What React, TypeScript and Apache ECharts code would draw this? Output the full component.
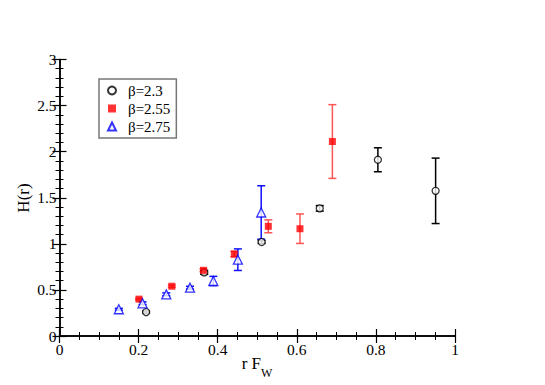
import React, { useEffect, useRef } from "react";
import * as echarts from "echarts";

const x23 = [0.219, 0.366, 0.511, 0.658, 0.805, 0.951];
const y23 = [0.26, 0.69, 1.02, 1.385, 1.912, 1.575];
const e23 = [0.012, 0.02, 0.015, 0.03, 0.13, 0.355];

const x255 = [0.201, 0.284, 0.364, 0.442, 0.528, 0.608, 0.69];
const y255 = [0.4, 0.54, 0.713, 0.889, 1.19, 1.164, 2.11];
const e255 = [0.01, 0.012, 0.015, 0.03, 0.07, 0.16, 0.4];

const x275 = [0.15, 0.21, 0.27, 0.33, 0.389, 0.451, 0.51];
const y275 = [0.29, 0.355, 0.452, 0.524, 0.597, 0.828, 1.34];
const e275 = [0.01, 0.015, 0.015, 0.015, 0.05, 0.117, 0.29];

const legendNames = ["β=2.3", "β=2.55", "β=2.75"];
const xTicks = [0, 0.2, 0.4, 0.6, 0.8, 1];
const yTicks = [0, 0.5, 1, 1.5, 2, 2.5, 3];

const FONT = "'Liberation Serif', 'DejaVu Serif', serif";

function errSeries(xs: number[], ys: number[], es: number[], color: string) {
  return {
    type: "custom",
    silent: true,
    xAxisIndex: 0,
    yAxisIndex: 0,
    data: xs.map((x, i) => [x, ys[i], es[i]]),
    renderItem: (params: any, api: any) => {
      const x = api.value(0);
      const y = api.value(1);
      const e = api.value(2);
      const top = api.coord([x, y + e]);
      const bot = api.coord([x, y - e]);
      const w = 4;
      const style = { stroke: color, lineWidth: 1.5 };
      return {
        type: "group",
        children: [
          { type: "line", shape: { x1: top[0], y1: top[1], x2: bot[0], y2: bot[1] }, style },
          { type: "line", shape: { x1: top[0] - w, y1: top[1], x2: top[0] + w, y2: top[1] }, style },
          { type: "line", shape: { x1: bot[0] - w, y1: bot[1], x2: bot[0] + w, y2: bot[1] }, style },
        ],
      };
    },
    z: 2,
  };
}

export default function App() {
  const ref = useRef<HTMLDivElement>(null);
  useEffect(() => {
    if (!ref.current) return;
    const chart = echarts.init(ref.current, null, { renderer: "svg" });
    const axisCommon = {
      min: 0,
      axisLine: { show: true, lineStyle: { color: "#000", width: 1.5 } },
      axisTick: { show: true, inside: true, length: 7, lineStyle: { color: "#000", width: 1.2 } },
      minorTick: { show: true, splitNumber: 4, length: 4, lineStyle: { color: "#000", width: 1 } },
      splitLine: { show: false },
    };
    const labelStyle = { color: "#000", fontFamily: FONT, fontSize: 15.5 };
    chart.setOption({
      animation: false,
      textStyle: { fontFamily: FONT },
      grid: { left: 59.5, right: 90, top: 59.5, bottom: 49 },
      xAxis: [
        {
          ...axisCommon,
          type: "value",
          max: 1,
          interval: 0.2,
          position: "bottom",
          axisLabel: {
            ...labelStyle,
            margin: 5,
            formatter: (v: number) => {
              const r = Math.round(v * 10) / 10;
              return xTicks.includes(r) ? String(r) : "";
            },
          },
        },
        {
          ...axisCommon,
          type: "value",
          max: 1,
          interval: 0.2,
          position: "top",
          axisLabel: { show: false },
        },
      ],
      yAxis: [
        {
          ...axisCommon,
          type: "value",
          max: 3,
          interval: 0.5,
          position: "left",
          minorTick: { show: true, splitNumber: 5, length: 4, lineStyle: { color: "#000", width: 1 } },
          axisLabel: { ...labelStyle, margin: 3, formatter: (v: number) => (yTicks.includes(v) ? String(v) : "") },
        },
        {
          ...axisCommon,
          type: "value",
          max: 3,
          interval: 0.5,
          position: "right",
          minorTick: { show: true, splitNumber: 5, length: 4, lineStyle: { color: "#000", width: 1 } },
          axisLabel: { show: false },
        },
      ],
      legend: {
        orient: "vertical",
        left: 99,
        top: 79,
        borderColor: "#777",
        borderWidth: 1.5,
        padding: [4, 6, 4, 8],
        itemGap: 3,
        itemWidth: 8,
        itemHeight: 8,
        formatter: (n: string) => "{t|" + n + "}",
        textStyle: {
          fontFamily: FONT,
          fontSize: 15,
          color: "#000",
          rich: { t: { fontFamily: FONT, fontSize: 15, color: "#000", padding: [0, 0, 0, 7] } },
        },
        data: legendNames,
      },
      graphic: [
        {
          type: "text",
          x: 23,
          y: 198,
          rotation: Math.PI / 2,
          style: { text: "H(r)", fontFamily: FONT, fontSize: 17, fill: "#000", align: "center", verticalAlign: "middle" },
        },
        {
          type: "text",
          x: 261,
          y: 363,
          style: { text: "r F", fontFamily: FONT, fontSize: 17, fill: "#000", align: "right", verticalAlign: "middle" },
        },
        {
          type: "text",
          x: 261,
          y: 373,
          style: { text: "W", fontFamily: FONT, fontSize: 12, fill: "#000", align: "left", verticalAlign: "middle" },
        },
      ],
      series: [
        errSeries(x23, y23, e23, "#000"),
        errSeries(x255, y255, e255, "#ff5555"),
        errSeries(x275, y275, e275, "#1010ff"),
        {
          name: legendNames[0],
          type: "scatter",
          symbol: "circle",
          symbolSize: 7,
          itemStyle: { color: "#fff", borderColor: "#000", borderWidth: 1.3 },
          data: x23.map((x, i) => [x, y23[i]]),
          z: 3,
        },
        {
          name: legendNames[1],
          type: "scatter",
          symbol: "rect",
          symbolSize: 7,
          itemStyle: { color: "#ff0000" },
          data: x255.map((x, i) => [x, y255[i]]),
          z: 3,
        },
        {
          name: legendNames[2],
          type: "scatter",
          symbol: "triangle",
          symbolSize: 9,
          itemStyle: { color: "#fff", borderColor: "#0000ff", borderWidth: 1.3 },
          data: x275.map((x, i) => [x, y275[i]]),
          z: 3,
        },
      ],
    });
    return () => chart.dispose();
  }, []);
  return <div ref={ref} style={{ position: "absolute", left: 0, top: 0, width: 545, height: 385 }} />;
}
